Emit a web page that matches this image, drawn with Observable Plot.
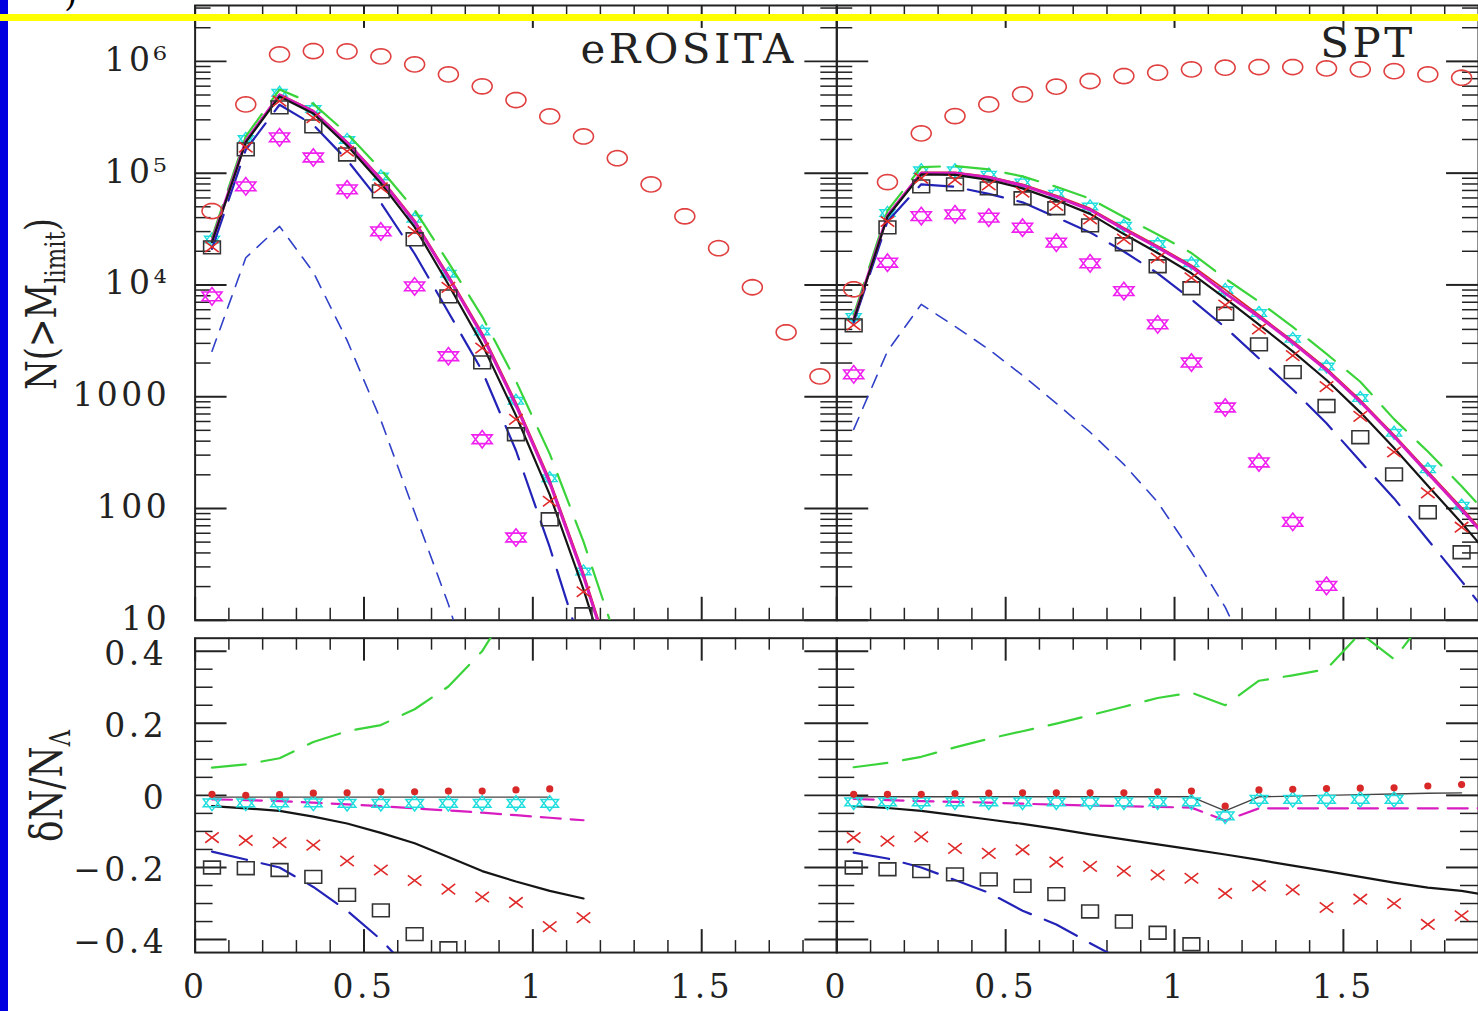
<!DOCTYPE html>
<html><head><meta charset="utf-8">
<script src="https://cdn.jsdelivr.net/npm/d3@7"></script>
<script src="https://cdn.jsdelivr.net/npm/@observablehq/plot@0.6"></script>
<style>
html,body{margin:0;padding:0;background:#fff;overflow:hidden;}
#chart{position:relative;width:1478px;height:1011px;overflow:hidden;background:#fff;}
#chart svg.layer{position:absolute;left:0;top:0;}
#bluebar{position:absolute;left:0;top:0;width:8px;height:1011px;background:#0000e0;}
#yellow{position:absolute;left:0;top:14px;width:1478px;height:7px;background:#ffff00;}
#paren{position:absolute;left:64px;top:-26px;font:34px "DejaVu Serif";color:#000;}
</style></head><body><div id="chart"></div>
<script>
// ---------------- data ----------------
const bins = [0.05,0.15,0.25,0.35,0.45,0.55,0.65,0.75,0.85,0.95,1.05,1.15,1.25,1.35,1.45,1.55,1.65,1.75,1.85,1.95];
const panelNames = ["eROSITA", "SPT"];

// tick values / labels
const xMajorTicks = [0, 0.5, 1, 1.5];
const xTickLabels = ["0", "0.5", "1", "1.5"];
const xMinorTicks = [0.1,0.2,0.3,0.4,0.6,0.7,0.8,0.9,1.1,1.2,1.3,1.4,1.6,1.7,1.8];
const yMajorTop = [10, 100, 1000, 1e4, 1e5, 1e6];
const yTopLabels = ["10", "100", "1000", "10\u2074", "10\u2075", "10\u2076"];
const yMinorTop = [20,30,40,50,60,70,80,90,200,300,400,500,600,700,800,900,
  2000,3000,4000,5000,6000,7000,8000,9000,20000,30000,40000,50000,60000,70000,80000,90000,
  2e5,3e5,4e5,5e5,6e5,7e5,8e5,9e5,2e6,3e6];
const yMajorBottom = [-0.4, -0.2, 0, 0.2, 0.4];
const yBottomLabels = ["\u22120.4", "\u22120.2", "0", "0.2", "0.4"];
const yMinorBottom = [-0.35,-0.3,-0.25,-0.15,-0.1,-0.05,0.05,0.1,0.15,0.25,0.3,0.35];

// eROSITA, N(>M_limit)
const eroCircles   = [45800,412000,1155000,1237000,1228000,1108000,940000,765000,598000,451000,322000,213000,136000,79400,41100,21300,9530,3770,1520];
const eroRefLine   = [24800,196000,508000,363000,192000,90600,37900,12200,3720,891,181,26.5,3.0];
const eroMagLine   = [24600,194000,500000,356000,187000,87900,36500,11700,3540,840,170,24.7,2.8];
const eroBlackLine = [24100,189000,486000,342000,177000,81200,32900,10100,2940,678,133,18.9,2.07];
const eroGreenLine = [26700,213000,560000,417000,226000,108000,47000,15900,5210,1380,308,50.4,6.3];
const eroBlueLong  = [21000,162000,409000,271000,131000,54400,19000,5700,1700,330,45,5,0.5];
const eroBlueShort = [2550,17500,33400,13000,3190,615,92,13.9,1.5];
const eroCyanStars = [25500,202000,523000,374000,198000,93300,39000,12600,3830,918,186,27.3];
const eroRedX      = [21900,171000,441000,313000,157000,74000,30000,9500,2720,627,116,18];
const eroSquares   = [21700,163000,388000,262000,147000,68700,25600,7900,2030,461,80,11.3];
const eroMagStars  = [7900,76200,209000,138000,71600,30100,9700,2300,416,55];

// SPT, N(>M_limit)
const sptCircles   = [9140,83200,227000,324000,412000,507000,594000,667000,739000,793000,848000,878000,890000,890000,865000,848000,818000,765000,714000];
const sptRefLine   = [4970,42300,102000,102000,93300,79400,63000,48400,32500,22300,15000,9080,5380,3160,1790,935,457,215,102,46];
const sptMagLine   = [4920,41700,100000,100000,91400,77600,61400,47000,31500,21600,14500,8440,5190,3050,1730,901,441,207,98,44];
const sptBlackLine = [4820,40700,97500,96600,87100,73100,57100,43200,28500,19300,12700,7590,4420,2540,1410,724,347,160,74,33];
const sptGreenLine = [5360,46100,113000,116000,108000,93500,75500,59100,40500,28300,19300,11400,7090,4210,2420,1360,630,323,158,74];
const sptBlueLong  = [4620,37000,79400,75400,65300,54800,40300,29500,19900,12700,7430,4170,2200,1160,578,264,123,52.5,22.4,9.3];
const sptBlueShort = [510,2550,6700,4260,2650,1550,873,481,248,114,40.6,13.1,3];
const sptCyanStars = [5170,44000,106000,106000,97000,82600,65500,50300,33800,23200,15600,9000,5600,3290,1860,972,475,224,106];
const sptRedX      = [4390,36900,90300,87000,78300,67400,51300,38900,25700,17400,11600,6610,4030,2330,1230,666,320,138,68];
const sptSquares   = [4350,32700,76200,79400,73100,59600,48500,34100,23100,14700,9330,5520,2940,1660,826,434,202,92.5,40.6];
const sptMagStars  = [1585,15800,41300,42800,40000,32500,23900,15600,8810,4440,2020,800,258,75.9,20.3];

// eROSITA, dN/N_Lambda
const dEroGreen   = [0.077,0.086,0.103,0.148,0.178,0.195,0.239,0.302,0.40,0.55];
const dEroBlue    = [-0.156,-0.178,-0.2,-0.254,-0.32,-0.40,-0.50];
const dEroBlack   = [-0.030,-0.036,-0.043,-0.059,-0.078,-0.104,-0.133,-0.171,-0.21,-0.239,-0.265,-0.286];
const dEroMagenta = [-0.011,-0.013,-0.016,-0.02,-0.025,-0.03,-0.036,-0.042,-0.048,-0.055,-0.062,-0.069];
const dEroZero    = [-0.005,-0.005,-0.005,-0.005,-0.005,-0.005,-0.005,-0.005,-0.005,-0.005,-0.005];
const dEroCyan    = [-0.021,-0.021,-0.021,-0.021,-0.022,-0.022,-0.022,-0.022,-0.022,-0.022,-0.022];
const dEroRedDots = [0.003,0.0,0.002,0.006,0.007,0.01,0.01,0.012,0.012,0.015,0.018];
const dEroRedX    = [-0.117,-0.125,-0.131,-0.138,-0.182,-0.207,-0.236,-0.26,-0.282,-0.297,-0.364,-0.339];
const dEroSquares = [-0.2,-0.202,-0.207,-0.226,-0.276,-0.319,-0.385,-0.424];

// SPT, dN/N_Lambda
const dSptGreen   = [0.078,0.09,0.107,0.133,0.157,0.178,0.199,0.222,0.246,0.27,0.285,0.25,0.318,0.333,0.35,0.45,0.378,0.5,0.55];
const dSptBlue    = [-0.159,-0.175,-0.2,-0.235,-0.27,-0.32,-0.358,-0.41,-0.46];
const dSptBlack   = [-0.03,-0.035,-0.043,-0.055,-0.067,-0.079,-0.093,-0.108,-0.122,-0.136,-0.15,-0.164,-0.179,-0.195,-0.21,-0.226,-0.242,-0.256,-0.265,-0.28];
const dSptMagenta = [-0.01,-0.013,-0.016,-0.018,-0.02,-0.023,-0.026,-0.028,-0.03,-0.032,-0.034,-0.07,-0.036,-0.036,-0.036,-0.036,-0.036,-0.036,-0.036,-0.036];
const dSptZero    = [-0.004,-0.004,-0.004,-0.004,-0.004,-0.004,-0.004,-0.004,-0.004,-0.004,-0.004,-0.043,-0.004,-0.002,0,0.002,0.004,0.006,0.007];
const dSptCyan    = [-0.018,-0.018,-0.018,-0.018,-0.018,-0.018,-0.018,-0.018,-0.018,-0.018,-0.018,-0.057,-0.011,-0.011,-0.011,-0.011,-0.011];
const dSptRedDots = [0.003,0.003,0.003,0.005,0.006,0.007,0.007,0.007,0.007,0.01,0.012,-0.03,0.015,0.017,0.019,0.02,0.021,0.026,0.03];
const dSptRedX    = [-0.117,-0.127,-0.115,-0.147,-0.161,-0.151,-0.185,-0.197,-0.21,-0.221,-0.23,-0.272,-0.251,-0.262,-0.311,-0.288,-0.3,-0.358,-0.334];
const dSptSquares = [-0.2,-0.205,-0.21,-0.219,-0.233,-0.251,-0.274,-0.322,-0.35,-0.381,-0.413];

// ---------------- styling & layout ----------------
const FONT = "DejaVu Serif";
const W = 1481, H = 1011;
const boxes = {
  tl: {left: 195, right: 838, top: 5, bottom: 621},
  tr: {left: 838, right: 1481, top: 5, bottom: 621},
  bl: {left: 195, right: 838, top: 639, bottom: 954},
  br: {left: 838, right: 1481, top: 639, bottom: 954}
};
const C = {
  black: "#151515", magenta: "#d81cc0", red: "#d82828", green: "#3ad43a",
  blue: "#2323b8", blueShort: "#3040c8", cyan: "#20dede", magStar: "#f020f0",
  circle: "#e04040", xred: "#e02a2a", square: "#333333", frame: "#222"
};

const pts = ys => ys.map((y, i) => ({x: bins[i], y}));

// custom symbols (horizontally stretched like the original)
function ellipseSym(sx, sy) {
  return {draw(ctx, size) {
    const r = Math.sqrt(size / Math.PI), n = 28;
    for (let k = 0; k < n; k++) {
      const a = 2 * Math.PI * k / n, X = r * sx * Math.cos(a), Y = r * sy * Math.sin(a);
      k ? ctx.lineTo(X, Y) : ctx.moveTo(X, Y);
    }
    ctx.closePath();
  }};
}
function rectSym(sx, sy) {
  return {draw(ctx, size) {
    const r = Math.sqrt(size / Math.PI), w = r * sx, h = r * sy;
    ctx.moveTo(-w, -h); ctx.lineTo(w, -h); ctx.lineTo(w, h); ctx.lineTo(-w, h); ctx.closePath();
  }};
}
function hexagramSym(sx, sy) {
  return {draw(ctx, size) {
    const r = Math.sqrt(size / Math.PI);
    for (const a0 of [-90, 90]) {
      for (let k = 0; k < 3; k++) {
        const a = (a0 + k * 120) * Math.PI / 180;
        const X = r * sx * Math.cos(a), Y = r * sy * Math.sin(a);
        k ? ctx.lineTo(X, Y) : ctx.moveTo(X, Y);
      }
      ctx.closePath();
    }
  }};
}
function timesSym(sx, sy) {
  return {draw(ctx, size) {
    const r = Math.sqrt(size / Math.PI), w = r * sx, h = r * sy;
    ctx.moveTo(-w, -h); ctx.lineTo(w, h); ctx.moveTo(-w, h); ctx.lineTo(w, -h);
  }};
}
const symCircle = ellipseSym(1.25, 0.95);
const symSquare = rectSym(1.05, 0.8);
const symStar = hexagramSym(1.45, 1.1);
const symTimes = timesSym(0.85, 0.65);

function frameTicks(box, yMajor, yMinor, yMajLen, yMinLen) {
  const fw = box.right - box.left, fh = box.bottom - box.top;
  const c = {stroke: C.frame, strokeWidth: 2};
  const c1 = {stroke: C.frame, strokeWidth: 1.5};
  return [
    Plot.tickY(yMajor, {y: d => d, insetRight: fw - yMajLen, ...c}),
    Plot.tickY(yMajor, {y: d => d, insetLeft: fw - yMajLen, ...c}),
    Plot.tickY(yMinor, {y: d => d, insetRight: fw - yMinLen, ...c1}),
    Plot.tickY(yMinor, {y: d => d, insetLeft: fw - yMinLen, ...c1}),
    Plot.tickX(xMajorTicks, {x: d => d, insetBottom: fh - 23, ...c}),
    Plot.tickX(xMajorTicks, {x: d => d, insetTop: fh - 23, ...c}),
    Plot.tickX(xMinorTicks, {x: d => d, insetBottom: fh - 12, ...c1}),
    Plot.tickX(xMinorTicks, {x: d => d, insetTop: fh - 12, ...c1}),
    Plot.frame({stroke: C.frame, strokeWidth: 2})
  ];
}

function panel(box, yOpts, xAxis, marks) {
  const svg = Plot.plot({
    width: W, height: H,
    marginLeft: box.left, marginRight: W - box.right,
    marginTop: box.top, marginBottom: H - box.bottom,
    x: xAxis ? {domain: [0, 1.9]} : {domain: [0, 1.9], axis: null},
    y: yOpts,
    style: {background: "transparent", fontFamily: FONT, fontSize: "33px", color: "#222", letterSpacing: "3.5px", overflow: "visible"},
    marks
  });
  svg.classList.add("layer");
  document.getElementById("chart").appendChild(svg);
}

const line = (ys, stroke, strokeWidth, dash) =>
  Plot.line(pts(ys), {x: "x", y: "y", stroke, strokeWidth, strokeDasharray: dash, clip: true});
const dots = (ys, symbol, r, stroke, strokeWidth = 1.5) =>
  Plot.dot(pts(ys), {x: "x", y: "y", symbol, r, stroke, strokeWidth, fill: "none", clip: true});

const yAxisTop = Plot.axisY(yMajorTop, {anchor: "left", tickSize: 0, tickPadding: 25, label: null, dy: -1,
  tickFormat: d => yTopLabels[yMajorTop.indexOf(d)]});
const yAxisBottom = Plot.axisY(yMajorBottom, {anchor: "left", tickSize: 0, tickPadding: 28, label: null, dy: 3,
  tickFormat: d => yBottomLabels[yMajorBottom.indexOf(d)]});
const xAxisBottom = Plot.axisX(xMajorTicks, {anchor: "bottom", tickSize: 0, tickPadding: 22, label: null,
  tickFormat: d => xTickLabels[xMajorTicks.indexOf(d)]});

const yTop = {type: "log", domain: [10, Math.pow(10, 6.5)], axis: null};
const yBot = {domain: [-0.436, 0.436], axis: null};

// ---- top-left: eROSITA ----
panel(boxes.tl, yTop, false, [
  ...frameTicks(boxes.tl, yMajorTop, yMinorTop, 32, 16),
  yAxisTop,
  dots(eroCyanStars, symStar, 6, C.cyan, 1.4),
  line(eroBlueShort, C.blueShort, 1.6, "13,10"),
  line(eroBlueLong, C.blue, 2.2, "36,15"),
  line(eroGreenLine, C.green, 2.2, "34,16"),
  line(eroRefLine, C.red, 1.6),
  line(eroMagLine, C.magenta, 3),
  line(eroBlackLine, C.black, 2.2),
  dots(eroCircles, symCircle, 8, C.circle, 1.6),
  dots(eroMagStars, symStar, 8, C.magStar, 1.6),
  dots(eroSquares, symSquare, 8, C.square, 1.6),
  dots(eroRedX, symTimes, 8, C.xred, 1.6),
  Plot.text([panelNames[0]], {frameAnchor: "top-right", text: d => d, dx: -40, dy: 28,
    fontSize: 42, fill: "#222", textAnchor: "end", letterSpacing: "6px"})
]);

// ---- top-right: SPT ----
panel(boxes.tr, yTop, false, [
  ...frameTicks(boxes.tr, yMajorTop, yMinorTop, 32, 16),
  dots(sptCyanStars, symStar, 6, C.cyan, 1.4),
  line(sptBlueShort, C.blueShort, 1.6, "13,10"),
  line(sptBlueLong, C.blue, 2.2, "36,15"),
  line(sptGreenLine, C.green, 2.2, "34,16"),
  line(sptRefLine, C.red, 1.6),
  line(sptMagLine, C.magenta, 3),
  line(sptBlackLine, C.black, 2.2),
  dots(sptCircles, symCircle, 8, C.circle, 1.6),
  dots(sptMagStars, symStar, 8, C.magStar, 1.6),
  dots(sptSquares, symSquare, 8, C.square, 1.6),
  dots(sptRedX, symTimes, 8, C.xred, 1.6),
  Plot.text([panelNames[1]], {frameAnchor: "top-right", text: d => d, dx: -63, dy: 22,
    fontSize: 42, fill: "#222", textAnchor: "end", letterSpacing: "6px"})
]);

// ---- bottom-left: eROSITA residuals ----
panel(boxes.bl, yBot, true, [
  ...frameTicks(boxes.bl, yMajorBottom, yMinorBottom, 32, 18),
  yAxisBottom, xAxisBottom,
  line(dEroGreen, C.green, 2.2, "34,16"),
  line(dEroBlue, C.blue, 2.2, "36,15"),
  line(dEroBlack, C.black, 2.2),
  line(dEroMagenta, C.magenta, 2.2, "20,10"),
  line(dEroZero, "#444", 1.4),
  dots(dEroCyan, symStar, 7, C.cyan, 1.5),
  Plot.dot(pts(dEroRedDots), {x: "x", y: "y", r: 3.6, fill: C.red, clip: true}),
  dots(dEroRedX, symTimes, 8, C.xred, 1.6),
  dots(dEroSquares, symSquare, 8, C.square, 1.6)
]);

// ---- bottom-right: SPT residuals ----
panel(boxes.br, yBot, true, [
  ...frameTicks(boxes.br, yMajorBottom, yMinorBottom, 32, 18),
  xAxisBottom,
  line(dSptGreen, C.green, 2.2, "34,16"),
  line(dSptBlue, C.blue, 2.2, "36,15"),
  line(dSptBlack, C.black, 2.2),
  line(dSptMagenta, C.magenta, 2.2, "20,10"),
  line(dSptZero, "#444", 1.4),
  dots(dSptCyan, symStar, 7, C.cyan, 1.5),
  Plot.dot(pts(dSptRedDots), {x: "x", y: "y", r: 3.6, fill: C.red, clip: true}),
  dots(dSptRedX, symTimes, 8, C.xred, 1.6),
  dots(dSptSquares, symSquare, 8, C.square, 1.6)
]);

// ---- axis titles ----
const ov = d3.select("#chart").append("svg").attr("class", "layer")
  .attr("width", 1478).attr("height", 1011);
const t1 = ov.append("text").attr("transform", "translate(56,304) rotate(-90)")
  .attr("text-anchor", "middle").attr("font-family", FONT).attr("font-size", 42)
  .attr("fill", "#222").attr("textLength", 172).attr("lengthAdjust", "spacingAndGlyphs");
t1.append("tspan").text("N(>M");
t1.append("tspan").attr("font-size", 28).attr("dy", 9).text("limit");
t1.append("tspan").attr("dy", -9).text(")");
const t2 = ov.append("text").attr("transform", "translate(62,786) rotate(-90)")
  .attr("text-anchor", "middle").attr("font-family", FONT).attr("font-size", 44)
  .attr("fill", "#222").attr("textLength", 112).attr("lengthAdjust", "spacingAndGlyphs");
t2.append("tspan").text("\u03b4N/N");
t2.append("tspan").attr("font-size", 28).attr("dy", 8).text("\u039b");

// ---- slide decoration ----
const chart = document.getElementById("chart");
for (const id of ["bluebar", "yellow"]) { const d = document.createElement("div"); d.id = id; chart.appendChild(d); }
const p = document.createElement("div"); p.id = "paren"; p.textContent = ")"; chart.appendChild(p);
</script></body></html>
